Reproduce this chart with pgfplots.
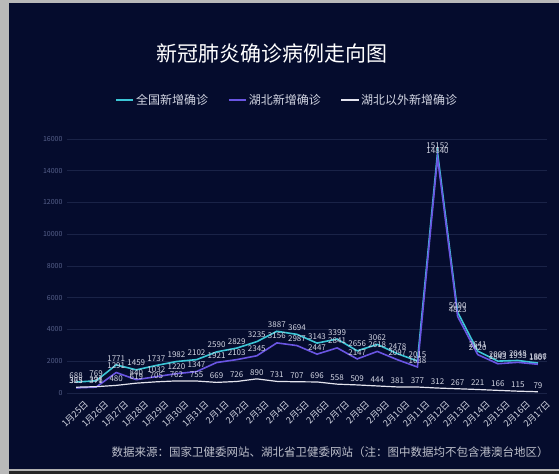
\documentclass[border=0pt]{standalone}
\usepackage{pgfplots}
\pgfplotsset{compat=1.18}
\usepackage{pgfplotstable}
\usepackage{fontspec}
\setmainfont{Noto Sans CJK SC}
\definecolor{bg}{HTML}{050C2D}
\definecolor{gridc}{HTML}{1A2347}
\definecolor{natc}{HTML}{3CC6D6}
\definecolor{hubc}{HTML}{6A55E2}
\definecolor{outc}{HTML}{E4E4EE}
\definecolor{lblc}{HTML}{D2D5E2}
\definecolor{tickc}{HTML}{56608A}
\pgfplotstableread{
x nat hub out
0 688 323 365
1 769 371 398
2 1771 1291 480
3 1459 840 619
4 1737 1032 705
5 1982 1220 762
6 2102 1347 755
7 2590 1921 669
8 2829 2103 726
9 3235 2345 890
10 3887 3156 731
11 3694 2987 707
12 3143 2447 696
13 3399 2841 558
14 2656 2147 509
15 3062 2618 444
16 2478 2097 381
17 2015 1638 377
18 15152 14840 312
19 5090 4823 267
20 2641 2420 221
21 2009 1843 166
22 2048 1933 115
23 1886 1807 79
}\data
\begin{document}
\begin{tikzpicture}
\useasboundingbox (0,0) rectangle (559pt,474pt);
\fill[bg] (0,0) rectangle (559pt,474pt);
\fill[black!85] (0,0) rectangle (559pt,3pt);
\fill[gray!60] (0,3pt) rectangle (559pt,5pt);
\fill[gray!55] (0,0) rectangle (9pt,474pt);
\fill[gray!55] (0,471pt) rectangle (559pt,474pt);
\node[text=white, font=\fontsize{21pt}{24pt}\selectfont] at (272pt,420pt) {新冠肺炎确诊病例走向图};
\node[text=lblc!90!black, font=\fontsize{11.5pt}{13pt}\selectfont] at (330pt,22pt) {数据来源：国家卫健委网站、湖北省卫健委网站（注：图中数据均不包含港澳台地区）};
\begin{axis}[
  at={(67pt,81pt)}, anchor=south west,
  scale only axis, width=480pt, height=254pt,
  xmin=-0.45, xmax=23.45, ymin=0, ymax=16000,
  axis line style={draw=none},
  tick style={draw=none},
  ymajorgrids, grid style={gridc, line width=0.6pt},
  ytick={0,2000,...,16000},
  scaled y ticks=false,
  /pgf/number format/1000 sep={},
  /pgf/number format/assume math mode=true,
  yticklabel style={font=\fontsize{7pt}{8pt}\selectfont, text=tickc, xshift=-1pt},
  xtick={0,...,23},
  xticklabels={1月25日,1月26日,1月27日,1月28日,1月29日,1月30日,1月31日,2月1日,2月2日,2月3日,2月4日,2月5日,2月6日,2月7日,2月8日,2月9日,2月10日,2月11日,2月12日,2月13日,2月14日,2月15日,2月16日,2月17日},
  xticklabel style={font=\fontsize{9pt}{10pt}\selectfont, text=lblc, rotate=45, anchor=north east, inner sep=1pt, yshift=-9pt, xshift=2pt},
  nodes near coords,
  every node near coord/.append style={font=\fontsize{8pt}{9pt}\selectfont, text=lblc, anchor=south, inner sep=1pt, yshift=2pt},
  legend columns=3,
  legend style={at={(0.459,1.1535)}, anchor=center, draw=none, fill=none, text=lblc, font=\fontsize{12pt}{14pt}\selectfont, /tikz/every even column/.append style={column sep=18pt}},
  legend cell align=left,
]
\addplot[natc, line width=1.6pt, no markers] table[x=x,y=nat]{\data};
\addlegendentry{全国新增确诊}
\addplot[hubc, line width=1.6pt, no markers] table[x=x,y=hub]{\data};
\addlegendentry{湖北新增确诊}
\addplot[outc, line width=1.2pt, no markers] table[x=x,y=out]{\data};
\addlegendentry{湖北以外新增确诊}
\end{axis}
\end{tikzpicture}
\end{document}
